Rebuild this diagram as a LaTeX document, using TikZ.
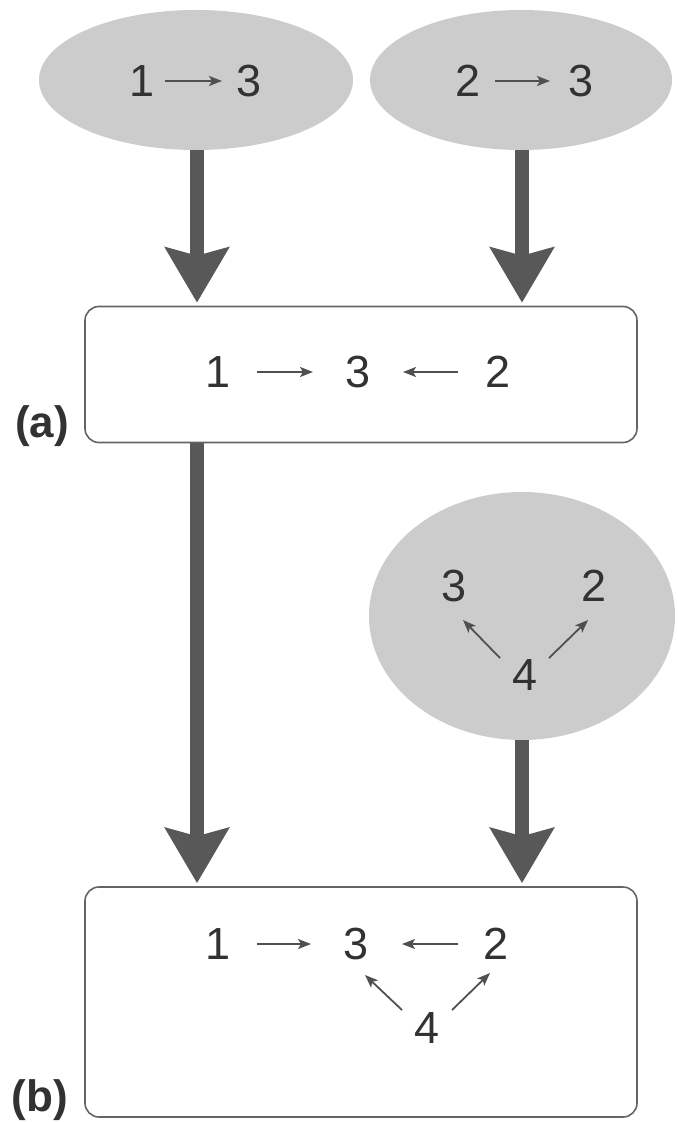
\documentclass[tikz,border=0pt]{standalone}
\usepackage{fontspec}
\setmainfont{Liberation Sans}
\usetikzlibrary{shapes.geometric,arrows.meta}
\definecolor{ellgray}{RGB}{204,204,204}
\definecolor{txt}{RGB}{50,50,50}
\definecolor{arrc}{RGB}{80,80,80}
\definecolor{bigc}{RGB}{88,88,88}
\definecolor{boxc}{RGB}{100,100,100}
\begin{document}
\begin{tikzpicture}[x=0.5pt,y=-0.5pt,
  ell/.style={ellipse, fill=ellgray, draw=none, inner sep=0pt},
  box/.style={draw=boxc, line width=0.8pt, rounded corners=7pt, inner sep=0pt},
  dig/.style={text=txt, font=\fontsize{22.5}{22.5}\selectfont, inner sep=0pt},
  sarr/.style={draw=arrc, line width=0.9pt, -{Stealth[length=6.5pt,width=5pt,inset=1.5pt]}},
  big/.style={draw=bigc, line width=7pt, -{Stealth[length=27.5pt,width=31.5pt,inset=4pt]}},
  lab/.style={font=\fontsize{22}{22}\selectfont\bfseries, text=txt, inner sep=0pt}]
\useasboundingbox (0,0) rectangle (677,1122);

% top ellipses
\node[ell, minimum width=157pt, minimum height=70pt] (e1) at (196,80) {};
\node[ell, minimum width=151pt, minimum height=70pt] (e2) at (521,80) {};
\node[dig] (e1a) at (142,81) {1};
\node[dig] (e1b) at (249,81) {3};
\draw[sarr] ([shift={(23,0)}]e1a.center) -- ([shift={(-27,0)}]e1b.center);
\node[dig] (e2a) at (468,81) {2};
\node[dig] (e2b) at (581,81) {3};
\draw[sarr] ([shift={(27,0)}]e2a.center) -- ([shift={(-31,0)}]e2b.center);

% box a
\node[box, minimum width=276pt, minimum height=68pt] (ba) at (361,374.5) {};
\node[dig] (a1) at (218,372) {1};
\node[dig] (a3) at (358,372) {3};
\node[dig] (a2) at (498,372) {2};
\draw[sarr] ([shift={(39,0)}]a1.center) -- ([shift={(-45,0)}]a3.center);
\draw[sarr] ([shift={(-40,0)}]a2.center) -- ([shift={(45,0)}]a3.center);
\node[lab, anchor=south] (la) at (42,447) {(a)};

% ellipse 3
\node[ell, minimum width=153pt, minimum height=124pt] (e3) at (522,616) {};
\node[dig] (c3) at (454,586) {3};
\node[dig] (c2) at (594,586) {2};
\node[dig] (c4) at (525,675) {4};
\draw[sarr] ([shift={(-25,-17)}]c4.center) -- ([shift={(9,34)}]c3.center);
\draw[sarr] ([shift={(24,-17)}]c4.center) -- ([shift={(-6,34)}]c2.center);

% box b
\node[box, minimum width=276pt, minimum height=115pt] (bb) at (361,1002) {};
\node[dig] (b1) at (218,944) {1};
\node[dig] (b3) at (356,944) {3};
\node[dig] (b2) at (496,944) {2};
\node[dig] (b4) at (427,1028) {4};
\draw[sarr] ([shift={(39,0)}]b1.center) -- ([shift={(-45,0)}]b3.center);
\draw[sarr] ([shift={(-38,0)}]b2.center) -- ([shift={(46,0)}]b3.center);
\draw[sarr] ([shift={(-25,-18)}]b4.center) -- ([shift={(9,31)}]b3.center);
\draw[sarr] ([shift={(25,-18)}]b4.center) -- ([shift={(-6,29)}]b2.center);
\node[lab, anchor=south] (lb) at (40,1121) {(b)};

% big arrows
\coordinate (x1) at (197,0);
\coordinate (x2) at (522,0);
\draw[big] (e1.south -| x1) -- ([shift={(0,-3)}]ba.north -| x1);
\draw[big] (e2.south -| x2) -- ([shift={(0,-3)}]ba.north -| x2);
\draw[big] (ba.south -| x1) -- ([shift={(0,-3)}]bb.north -| x1);
\draw[big] (e3.south -| x2) -- ([shift={(0,-3)}]bb.north -| x2);
\end{tikzpicture}
\end{document}
